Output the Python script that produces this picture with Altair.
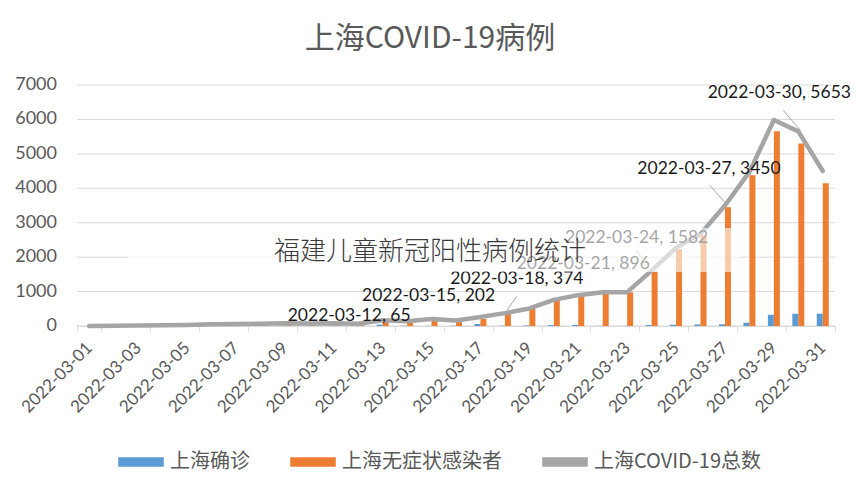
import altair as alt
import pandas as pd

dates = [f"2022-03-{d:02d}" for d in range(1, 32)]
confirmed = [1, 3, 2, 3, 0, 3, 4, 3, 4, 11, 5, 1, 41, 9, 5, 8, 57, 8, 17, 24, 31,
             4, 4, 29, 38, 45, 50, 96, 326, 355, 358]
asymptomatic = [1, 5, 14, 16, 28, 45, 51, 62, 76, 64, 78, 64, 128, 130, 197, 150,
                203, 366, 492, 734, 865, 977, 979, 1580, 2231, 2631, 3450, 4381,
                5656, 5298, 4144]
total = [c + a for c, a in zip(confirmed, asymptomatic)]

label_dates = ["2022-03-12", "2022-03-15", "2022-03-18", "2022-03-21",
               "2022-03-24", "2022-03-27", "2022-03-30"]
label_values = [65, 202, 374, 896, 1582, 3450, 5653]

series_names = ["上海确诊", "上海无症状感染者", "上海COVID-19总数"]
series_colors = ["#5b9bd5", "#ed7d31", "#a5a5a5"]

tick_dates = dates[::2]
y_ticks = [0, 1000, 2000, 3000, 4000, 5000, 6000, 7000]

FONT = "Lato, 'Noto Sans CJK SC', sans-serif"
CJK = "'Noto Sans CJK SC', Lato, sans-serif"

df = pd.DataFrame({"date": dates, "confirmed": confirmed,
                   "asym": asymptomatic, "total": total})
lab = pd.DataFrame({"date": label_dates, "value": label_values,
                    "total": [total[dates.index(d)] for d in label_dates]})
lab["text"] = lab["date"] + ", " + lab["value"].astype(str)
yt = pd.DataFrame({"v": y_ticks, "t": [str(v) for v in y_ticks]})

color_scale = alt.Scale(domain=series_names, range=series_colors)
legend = alt.Legend(
    title=None, orient="none", legendX=41, legendY=354, direction="horizontal",
    symbolType="M-1,-0.18H1V0.18H-1Z", symbolSize=1936, symbolStrokeWidth=1.5,
    labelFont=CJK, labelFontSize=20, labelColor="#595959", labelOffset=6,
    labelLimit=400, columnPadding=38, padding=0, symbolOpacity=1,
)

x_axis = alt.Axis(values=tick_dates, title=None, labelAngle=-45,
                  labelAlign="right", labelBaseline="middle",
                  labelFont=FONT, labelFontSize=17, labelColor="#595959",
                  labelPadding=14, tickBand="extent", tickSize=5,
                  tickColor="#d9d9d9", domainColor="#d9d9d9",
                  grid=False, labelOverlap=False)
x_scale = alt.Scale(paddingInner=0, paddingOuter=0)
y_scale = alt.Scale(domain=[0, 7000], nice=False, zero=True)


def X():
    return alt.X("date:N", sort=dates, scale=x_scale, axis=x_axis)


def Y(field):
    return alt.Y(field, scale=y_scale, axis=None)


# value axis: gridlines and labels drawn through the y scale
grid = alt.Chart(yt).mark_rule(color="#d9d9d9", strokeWidth=1).encode(
    y=Y("v:Q"), x=alt.value(0), x2=alt.value(758))
ylabels = alt.Chart(yt).mark_text(
    align="right", baseline="middle", font=FONT, fontSize=18, color="#595959"
).encode(y=Y("v:Q"), x=alt.value(-20), text="t:N")

base = alt.Chart(df)

bars_c = base.transform_calculate(series="'上海确诊'").mark_bar(
    size=6, xOffset=-3).encode(
    x=X(), y=Y("confirmed:Q"),
    color=alt.Color("series:N", scale=color_scale, legend=legend),
)
bars_a = base.transform_calculate(series="'上海无症状感染者'").mark_bar(
    size=6, xOffset=3).encode(
    x=X(), y=Y("asym:Q"),
    color=alt.Color("series:N", scale=color_scale, legend=legend),
)
line = base.transform_calculate(series="'上海COVID-19总数'").mark_line(
    strokeWidth=4.5, strokeCap="round", strokeJoin="round").encode(
    x=X(), y=Y("total:Q"),
    color=alt.Color("series:N", scale=color_scale, legend=legend),
)

# label offsets (dx, dy) relative to the data point
label_offsets = {
    "2022-03-12": (-9, -8), "2022-03-15": (-3, -23), "2022-03-18": (12, -34),
    "2022-03-21": (5, -31), "2022-03-24": (-15, -33), "2022-03-27": (-16, -37),
    "2022-03-30": (-19, -38),
}
label_layers = []
for d in label_dates:
    dx, dy = label_offsets[d]
    label_layers.append(
        alt.Chart(lab).transform_filter(alt.datum.date == d)
        .mark_text(dx=dx, dy=dy, font=FONT, fontSize=17.5, color="#1a1a1a")
        .encode(x=X(), y=Y("total:Q"), text="text:N")
    )

leader_offsets = {
    "2022-03-18": (2, -3, 12, -17), "2022-03-24": (-4, -5, -15, -20),
    "2022-03-27": (0, -3, -15, -20), "2022-03-30": (2, -1, -15, -21),
}
leader_layers = []
for d, (xo, yo, x2o, y2o) in leader_offsets.items():
    leader_layers.append(
        alt.Chart(lab).transform_filter(alt.datum.date == d)
        .mark_rule(color="#a6a6a6", strokeWidth=1, xOffset=xo, yOffset=yo,
                   x2Offset=x2o, y2Offset=y2o)
        .encode(x=X(), x2=alt.X2("date:N"),
                y=Y("total:Q"), y2=alt.Y2("total:Q"))
    )

overlay = alt.Chart(pd.DataFrame({"a": [0]})).mark_rect(
    color="white", opacity=0.6).encode(
    x=alt.value(51), x2=alt.value(663), y=alt.value(143), y2=alt.value(187))

overlay_text = alt.Chart(pd.DataFrame({"t": ["福建儿童新冠阳性病例统计"]})).mark_text(
    font=CJK, fontSize=26, fontWeight=300, color="#3a3a3a").encode(
    x=alt.value(353), y=alt.value(167), text="t:N")

chart = alt.layer(
    grid, ylabels, bars_c, bars_a, line, *label_layers, *leader_layers,
    overlay, overlay_text
).properties(
    width=758, height=241,
    background="white",
    autosize=alt.AutoSizeParams(type="none"),
    padding={"left": 69, "top": 77, "right": 18, "bottom": 156},
    title=alt.TitleParams("上海COVID-19病例", font=CJK, fontSize=30,
                          fontWeight="normal", color="#595959", anchor="middle",
                          dx=-26, offset=7, baseline="middle"),
).configure_view(stroke=None)

chart.save("out.html", embed_options={"renderer": "svg", "actions": False})
